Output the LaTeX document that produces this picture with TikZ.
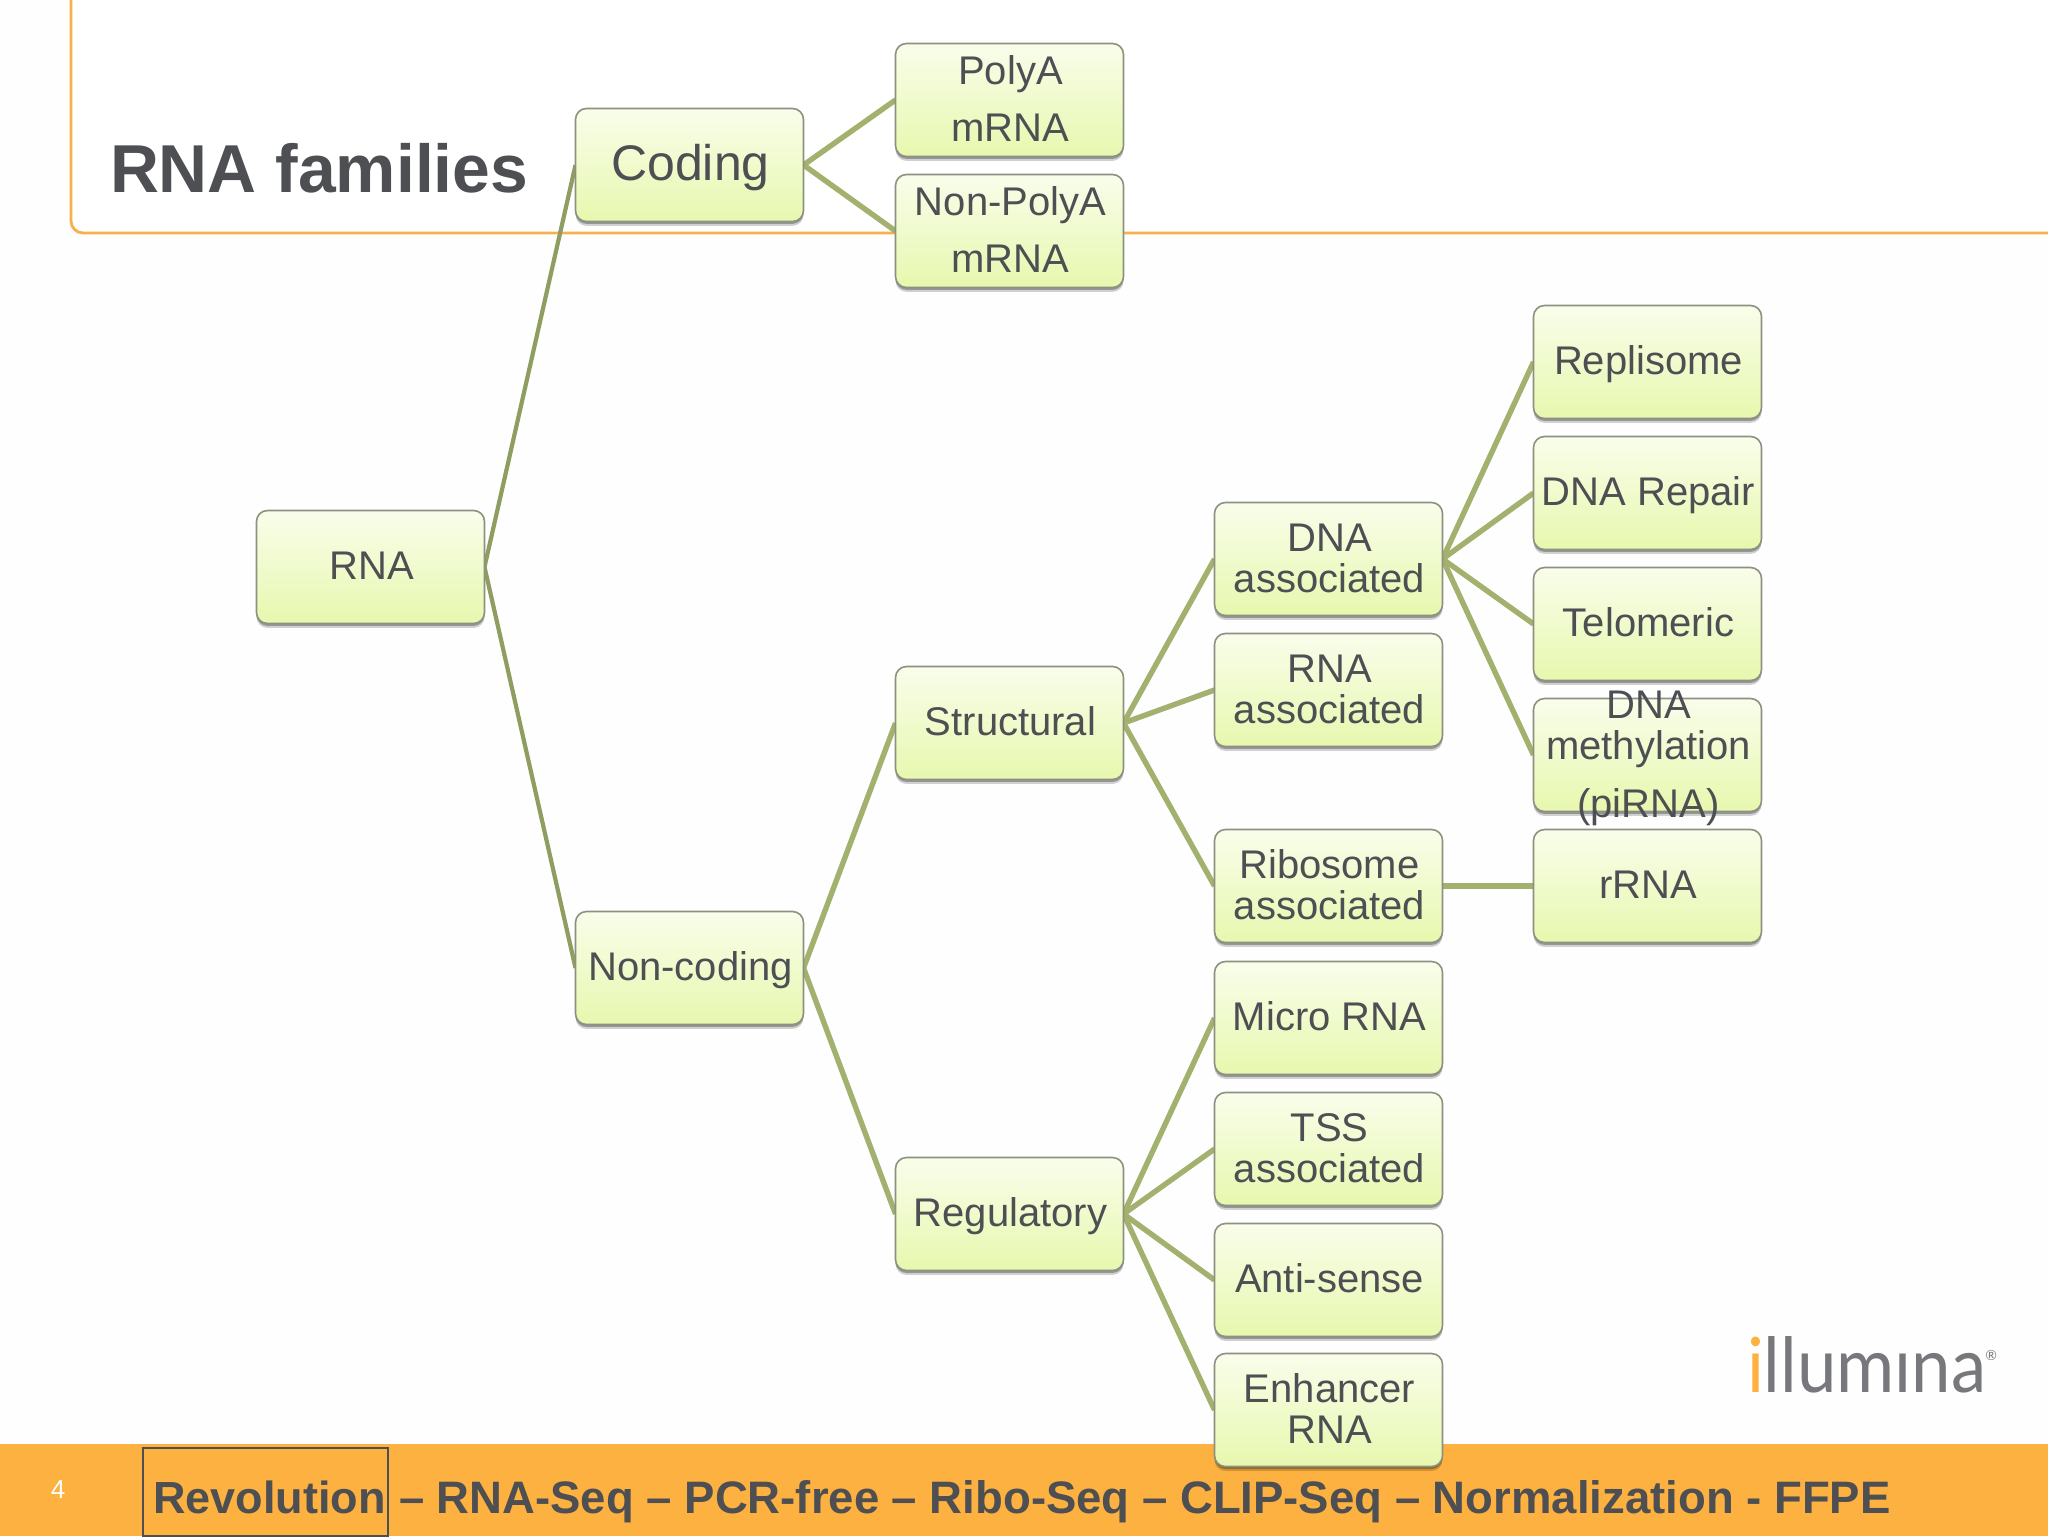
\documentclass[tikz,border=0pt]{standalone}
\usepackage{fontspec}
\setmainfont{Liberation Sans}
\newfontfamily\logofont{Lato}
\usetikzlibrary{shadows,backgrounds}
\definecolor{inktext}{HTML}{4D4F53}
\definecolor{barorange}{HTML}{FDB140}
\definecolor{frameorange}{HTML}{F8B04C}
\definecolor{linkolive}{HTML}{A3B16E}
\definecolor{linkdark}{HTML}{8F9E60}
\definecolor{boxtop}{HTML}{F9FDEB}
\definecolor{boxbot}{HTML}{E7F8AE}
\definecolor{boxedge}{HTML}{8C9180}
\definecolor{logogray}{HTML}{77787C}
\newcommand{\zst}{\hspace*{1pt}\rule[-.27em]{0pt}{1.17em}}
\normallineskiplimit=-100pt
\lineskiplimit=-100pt
\tikzset{
  basefont/.style={font=\fontsize{20}{20.5}\selectfont},
  rnabox/.style={draw=boxedge,line width=.8pt,rounded corners=5.5pt,top color=boxtop,bottom color=boxbot,
    minimum width=114pt,minimum height=56.5pt,inner sep=0pt,outer sep=0pt,align=center,
    text=inktext,basefont,
    general shadow={shadow xshift=0pt,shadow yshift=-2.2pt,fill=black,opacity=.18},
    general shadow={shadow xshift=0pt,shadow yshift=-1.2pt,fill=black,opacity=.28}},
  loosefont/.style={font=\fontsize{20}{28.5}\selectfont},
  bigfont/.style={font=\fontsize{25}{28}\selectfont},
  link/.style={draw=linkolive,line width=2.7pt},
  linkmain/.style={draw=linkdark,line width=2.1pt},
  labeltext/.style={inner sep=0pt,outer sep=0pt,align=center,text=inktext,basefont},
  bartext/.style={inner sep=0pt,outer sep=0pt,anchor=base west,text=inktext,font=\fontsize{22.75}{24}\bfseries\selectfont},
}
\begin{document}
\begin{tikzpicture}[x=.5pt,y=-.5pt]
\useasboundingbox (0,0) rectangle (2048,1536);
% column 1
\node[rnabox] (rna) at (370.5,567) {\zst RNA};
% column 2
\node[rnabox,bigfont] (coding) at (689.5,165) {\zst Coding};
\node[rnabox] (noncoding) at (689.5,968) {\zst Non-coding};
% column 3
\node[rnabox,loosefont] (polya) at (1009.5,100) {\zst PolyA\\\zst mRNA};
\node[rnabox,loosefont] (nonpolya) at (1009.5,231) {\zst Non-PolyA\\\zst mRNA};
\node[rnabox] (structural) at (1009.5,723) {\zst Structural};
\node[rnabox] (regulatory) at (1009.5,1214) {\zst Regulatory};
% column 4
\node[rnabox] (dnaassoc) at (1328.5,559) {\zst DNA\\\zst associated};
\node[rnabox] (rnaassoc) at (1328.5,690) {\zst RNA\\\zst associated};
\node[rnabox] (ribo) at (1328.5,886) {\zst Ribosome\\\zst associated};
\node[rnabox] (micro) at (1328.5,1018) {\zst Micro RNA};
\node[rnabox] (tss) at (1328.5,1149) {\zst TSS\\\zst associated};
\node[rnabox] (anti) at (1328.5,1280) {\zst Anti-sense};
\node[rnabox] (enhancer) at (1328.5,1410) {\zst Enhancer\\\zst RNA};
% column 5
\node[rnabox] (replisome) at (1647.5,362) {\zst Replisome};
\node[rnabox] (dnarepair) at (1647.5,493) {\zst DNA Repair};
\node[rnabox] (telomeric) at (1647.5,624) {\zst Telomeric};
\node[rnabox] (dnameth) at (1647.5,755) {};
\node[rnabox] (rrna) at (1647.5,886) {\zst rRNA};
\node[labeltext] (dnamethtext) at (1647.5,755) {\zst DNA\\\zst methylation\\[8.5pt]\zst (piRNA)};
% title and footer text
\node[inner sep=0pt,outer sep=0pt,anchor=base west,text=inktext,font=\fontsize{33.9}{36}\bfseries\selectfont] (title) at (110,192) {RNA families};
\node[draw=inktext,line width=1.2pt,inner sep=0pt,outer sep=0pt,minimum width=122.5pt,minimum height=44pt,anchor=north west] (revbox) at (143,1448) {};
\node[bartext,font=\fontsize{22.5}{24}\bfseries\selectfont] (revtext) at (153,1513) {Revolution};
\node[bartext] (restext) at (399,1513) {– RNA-Seq – PCR-free – Ribo-Seq – CLIP-Seq – Normalization - FFPE};
\node[inner sep=0pt,text=white,font=\fontsize{13}{14}\selectfont] (pagenum) at (58,1490) {4};
\node[inner sep=0pt,outer sep=0pt,anchor=base west,text=logogray,font=\logofont\fontsize{38}{40}\selectfont] (logo) at (1747,1392) {\scalebox{.93}[1]{\textcolor{barorange}{i}llumına}\hspace*{-.5pt}\raisebox{.42em}{\fontsize{7}{8}\selectfont®}};
% behind the nodes
\begin{scope}[on background layer]
\fill[white!99.7!black] (0,0) rectangle (2048,1536);
\fill[white] (71,0) rectangle (2048,233);
\draw[frameorange,line width=1.4pt,rounded corners=6pt] (71,-10) -- (71,233) -- (2060,233);
\fill[barorange] (0,1444) rectangle (2048,1536);
\draw[linkmain] (rna.east) -- (coding.west);
\draw[linkmain] (rna.east) -- (noncoding.west);
\draw[link] (coding.east) -- (polya.west);
\draw[link] (coding.east) -- (nonpolya.west);
\draw[link] (noncoding.east) -- (structural.west);
\draw[link] (noncoding.east) -- (regulatory.west);
\draw[link] (structural.east) -- (dnaassoc.west);
\draw[link] (structural.east) -- (rnaassoc.west);
\draw[link] (structural.east) -- (ribo.west);
\draw[link] (regulatory.east) -- (micro.west);
\draw[link] (regulatory.east) -- (tss.west);
\draw[link] (regulatory.east) -- (anti.west);
\draw[link] (regulatory.east) -- (enhancer.west);
\draw[link] (dnaassoc.east) -- (replisome.west);
\draw[link] (dnaassoc.east) -- (dnarepair.west);
\draw[link] (dnaassoc.east) -- (telomeric.west);
\draw[link] (dnaassoc.east) -- (dnameth.west);
\draw[link] (ribo.east) -- (rrna.west);
\end{scope}
\end{tikzpicture}
\end{document}
